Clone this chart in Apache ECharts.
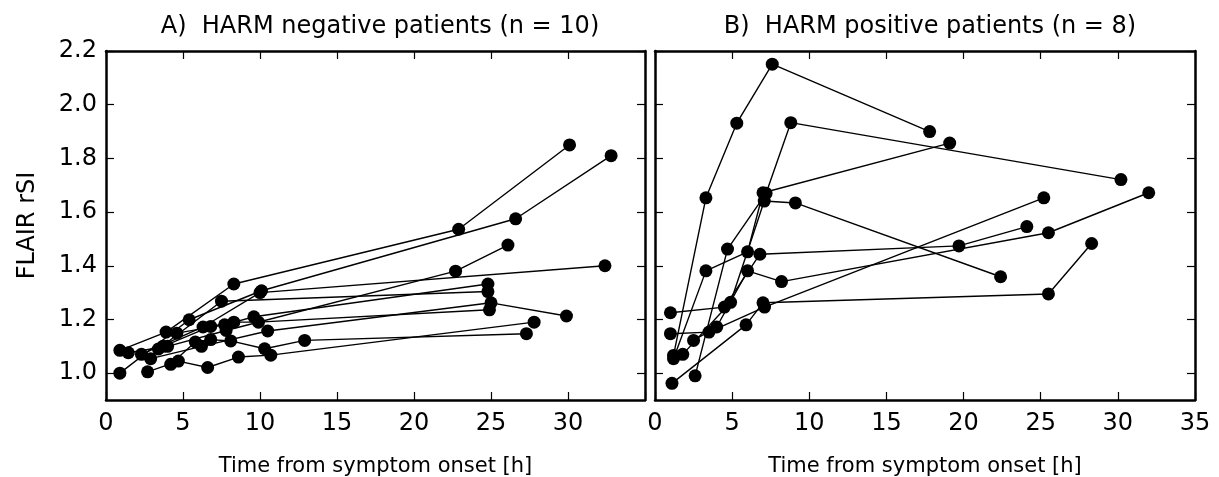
<!DOCTYPE html>
<html>
<head>
<meta charset="utf-8">
<script src="https://cdn.jsdelivr.net/npm/echarts@6/dist/echarts.min.js"></script>
<style>
html, body { margin: 0; background: #fff; }
#chart { width: 1219px; height: 477px; }
</style>
</head>
<body>
<div id="chart"></div>
<script>
// tick labels
const xTicks = [0, 5, 10, 15, 20, 25, 30, 35];
const yTicks = [1.0, 1.2, 1.4, 1.6, 1.8, 2.0, 2.2];

// A) HARM negative patients: [hours, FLAIR rSI]
const neg1 = [[0.9, 1.085], [3.9, 1.153], [8.3, 1.332], [22.9, 1.536], [30.1, 1.85]];
const neg2 = [[0.9, 1.0], [5.4, 1.199], [10.1, 1.307], [26.6, 1.575], [32.8, 1.81]];
const neg3 = [[1.45, 1.076], [4.0, 1.10], [7.8, 1.159], [22.7, 1.38], [26.1, 1.477]];
const neg4 = [[2.3, 1.07], [6.3, 1.172], [10.0, 1.30], [32.4, 1.40]];
const neg5 = [[3.4, 1.09], [7.5, 1.268], [24.8, 1.304]];
const neg6 = [[4.6, 1.149], [7.7, 1.18], [9.6, 1.21], [24.8, 1.332]];
const neg7 = [[2.9, 1.054], [6.2, 1.10], [10.5, 1.157], [25.0, 1.262], [29.9, 1.213]];
const neg8 = [[3.7, 1.10], [6.8, 1.174], [8.3, 1.19], [9.9, 1.19], [24.9, 1.236]];
const neg9 = [[2.7, 1.005], [4.7, 1.045], [6.6, 1.021], [8.6, 1.06], [10.7, 1.067], [27.8, 1.19]];
const neg10 = [[4.2, 1.033], [5.8, 1.116], [6.8, 1.125], [8.1, 1.12], [10.3, 1.091], [12.9, 1.122], [27.3, 1.147]];

// B) HARM positive patients
const pos1 = [[1.2, 1.066], [3.3, 1.653], [5.3, 1.931], [7.6, 2.151], [17.8, 1.90]];
const pos2 = [[2.6, 0.99], [4.7, 1.462], [7.2, 1.67], [8.8, 1.933], [30.2, 1.721]];
const pos3 = [[1.2, 1.054], [3.3, 1.381], [6.0, 1.452], [7.0, 1.672], [19.1, 1.857]];
const pos4 = [[1.8, 1.07], [4.9, 1.264], [7.08, 1.641], [9.1, 1.634], [22.4, 1.359]];
const pos5 = [[1.0, 1.225], [4.5, 1.246], [6.8, 1.443], [19.7, 1.474], [24.1, 1.546]];
const pos6 = [[2.5, 1.122], [4.0, 1.172], [6.0, 1.381], [8.2, 1.341], [25.5, 1.523], [32.0, 1.672]];
const pos7 = [[1.0, 1.147], [3.5, 1.153], [7.1, 1.246], [25.2, 1.653]];
const pos8 = [[1.1, 0.962], [5.9, 1.18], [7.0, 1.262], [25.5, 1.295], [28.3, 1.483]];

const negPatients = [neg1, neg2, neg3, neg4, neg5, neg6, neg7, neg8, neg9, neg10];
const posPatients = [pos1, pos2, pos3, pos4, pos5, pos6, pos7, pos8];

const font = 'DejaVu Sans';
const frame = { show: true, onZero: false, lineStyle: { color: '#000', width: 2.5 } };
const tick = { show: true, inside: true, length: 8, lineStyle: { color: '#000', width: 1.2 } };

function xAxisFor(grid, pos, labels, name) {
    return {
        type: 'value', gridIndex: grid, position: pos,
        min: 0, max: 35, interval: 5,
        axisLine: frame,
        axisTick: Object.assign({}, tick, { customValues: xTicks }),
        axisLabel: {
            show: labels, color: '#000', fontSize: 24, fontFamily: font, margin: 12,
            customValues: grid === 0 ? xTicks.slice(0, -1) : xTicks
        },
        splitLine: { show: false },
        name: name, nameLocation: 'middle', nameGap: 56,
        nameTextStyle: { color: '#000', fontSize: 21, fontFamily: font }
    };
}

function yAxisFor(grid, pos, labels, name) {
    return {
        type: 'value', gridIndex: grid, position: pos,
        min: 0.9, max: 2.2,
        axisLine: frame,
        axisTick: Object.assign({}, tick, { customValues: yTicks }),
        axisLabel: {
            show: labels, color: '#000', fontSize: 24, fontFamily: font, margin: 9,
            customValues: yTicks,
            formatter: v => v.toFixed(1)
        },
        splitLine: { show: false },
        name: name, nameLocation: 'middle', nameGap: 66,
        nameTextStyle: { color: '#000', fontSize: 24, fontFamily: font }
    };
}

function makeSeries(patients, grid) {
    return patients.map(p => ({
        type: 'line',
        xAxisIndex: grid * 2,
        yAxisIndex: grid * 2,
        data: p,
        symbol: 'circle',
        symbolSize: 13,
        showAllSymbol: true,
        itemStyle: { color: '#000' },
        lineStyle: { color: '#000', width: 1.4 },
        emphasis: { disabled: true },
        z: 3
    }));
}

const chart = echarts.init(document.getElementById('chart'), null, { renderer: 'canvas' });
chart.setOption({
    animation: false,
    backgroundColor: '#fff',
    title: [
        { text: 'A)  HARM negative patients (n = 10)', left: 375, top: 10, textAlign: 'center',
          textStyle: { color: '#000', fontSize: 24, fontWeight: 'normal', fontFamily: font } },
        { text: 'B)  HARM positive patients (n = 8)', left: 925, top: 10, textAlign: 'center',
          textStyle: { color: '#000', fontSize: 24, fontWeight: 'normal', fontFamily: font } }
    ],
    grid: [
        { left: 106, top: 51, width: 539, height: 349, outerBoundsMode: 'none' },
        { left: 655, top: 51, width: 540, height: 349, outerBoundsMode: 'none' }
    ],
    xAxis: [
        xAxisFor(0, 'bottom', true, 'Time from symptom onset [h]'),
        xAxisFor(0, 'top', false, ''),
        xAxisFor(1, 'bottom', true, 'Time from symptom onset [h]'),
        xAxisFor(1, 'top', false, '')
    ],
    yAxis: [
        yAxisFor(0, 'left', true, 'FLAIR rSI'),
        yAxisFor(0, 'right', false, ''),
        yAxisFor(1, 'left', false, ''),
        yAxisFor(1, 'right', false, '')
    ],
    series: makeSeries(negPatients, 0).concat(makeSeries(posPatients, 1))
});
</script>
</body>
</html>
